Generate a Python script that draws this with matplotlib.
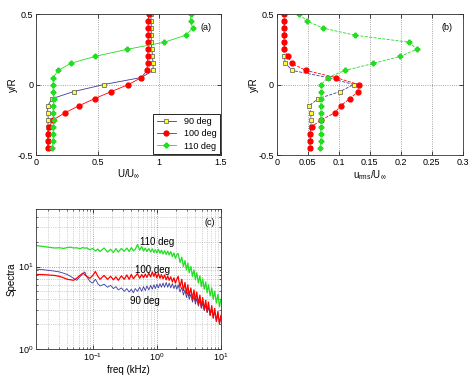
import matplotlib
matplotlib.use('Agg')
import matplotlib.pyplot as plt
from matplotlib.ticker import LogLocator, NullFormatter

plt.rcParams['font.family'] = ['Liberation Sans', 'DejaVu Sans']
plt.rcParams['font.size'] = 6.5
plt.rcParams['mathtext.fontset'] = 'custom'
plt.rcParams['mathtext.rm'] = 'Liberation Sans'
plt.rcParams['mathtext.it'] = 'Liberation Sans'

# Profile positions y/R
y_pos = [0.5, 0.45, 0.4, 0.35, 0.3, 0.25, 0.2, 0.15, 0.1, 0.05,
         0.0, -0.05, -0.1, -0.15, -0.2, -0.25, -0.3, -0.35, -0.4, -0.45]

# (a) mean velocity U/U_inf
u_90 = [0.93, 0.935, 0.935, 0.935, 0.935, 0.94, 0.945, 0.95, 0.95, 0.855,
        0.55, 0.305, 0.13, 0.095, 0.095, 0.10, 0.095, 0.095, 0.095, 0.095]
u_100 = [0.915, 0.91, 0.91, 0.91, 0.91, 0.91, 0.905, 0.905, 0.90, 0.855,
         0.75, 0.61, 0.475, 0.35, 0.235, 0.14, 0.105, 0.10, 0.10, 0.10]
u_110 = [1.255, 1.255, 1.27, 1.215, 1.04, 0.74, 0.48, 0.28, 0.18, 0.14,
         0.14, 0.14, 0.145, 0.14, 0.14, 0.145, 0.14, 0.14, 0.14, 0.13]

# (b) rms velocity u_rms/U_inf
rms_90 = [0.012, 0.012, 0.012, 0.012, 0.012, 0.012, 0.012, 0.014, 0.025, 0.082,
          0.124, 0.102, 0.067, 0.052, 0.055, 0.055, 0.055, 0.054, 0.054, 0.054]
rms_100 = [0.012, 0.012, 0.012, 0.012, 0.012, 0.012, 0.018, 0.024, 0.047, 0.095,
           0.132, 0.131, 0.118, 0.103, 0.094, 0.072, 0.056, 0.054, 0.054, 0.053]
rms_110 = [0.036, 0.049, 0.075, 0.126, 0.214, 0.226, 0.199, 0.156, 0.110, 0.082,
           0.072, 0.072, 0.071, 0.071, 0.071, 0.071, 0.071, 0.071, 0.071, 0.070]

# (c) spectra
freq = [0.013, 0.016, 0.02, 0.025, 0.03, 0.035, 0.04, 0.045, 0.05, 0.056,
        0.063, 0.07, 0.075, 0.08, 0.09, 0.1, 0.11, 0.12, 0.13, 0.15,
        0.17, 0.19, 0.21, 0.23, 0.25, 0.28, 0.31,
        0.34, 0.37, 0.4, 0.43, 0.46, 0.5, 0.54, 0.58, 0.62, 0.66,
        0.7, 0.75, 0.8, 0.85, 0.9, 0.95, 1.0, 1.06, 1.12, 1.18,
        1.25, 1.32, 1.4, 1.48, 1.56, 1.65, 1.75, 1.85, 1.95, 2.05,
        2.15, 2.3, 2.45, 2.6, 2.75, 2.9, 3.05, 3.2, 3.4, 3.6,
        3.8, 4.0, 4.2, 4.45, 4.7, 4.95, 5.2, 5.5, 5.8, 6.1,
        6.4, 6.8, 7.2, 7.6, 8.0, 8.5, 9.0, 9.5, 10.0]
spec_110 = [18.0, 17.6, 17.2, 16.8, 16.9, 16.6, 17.0, 17.2, 16.8, 16.9,
            16.5, 17.0, 16.7, 16.9, 16.0, 16.6, 15.4, 16.3, 15.2, 16.8,
            15.0, 16.2, 14.8, 16.5, 15.0, 16.6, 15.3,
            16.8, 15.2, 17.0, 15.5, 16.2, 18.5, 15.8, 17.5, 15.4, 16.8,
            15.2, 16.5, 15.0, 16.4, 14.8, 16.0, 14.6, 16.2, 14.5, 15.8,
            14.2, 15.6, 14.0, 15.4, 13.8, 15.2, 13.2, 14.6, 12.6, 13.9,
            14.4, 11.2, 13.0, 10.0, 11.8, 9.1, 11.0, 8.4, 10.0, 7.6,
            9.1, 6.9, 8.4, 6.3, 7.7, 5.7, 7.1, 5.3, 6.5, 4.8,
            6.0, 4.4, 5.5, 4.0, 5.0, 3.6, 4.6, 3.25, 4.0]
spec_100 = [8.0, 8.0, 7.9, 7.8, 7.6, 7.3, 7.0, 6.9, 6.8, 7.2,
            7.8, 8.3, 8.0, 7.6, 7.2, 7.8, 8.7, 7.6, 7.0, 7.8,
            7.0, 7.6, 6.9, 7.5, 6.8, 7.7, 7.0,
            7.9, 7.0, 8.0, 7.1, 7.6, 8.2, 7.2, 8.0, 7.3, 8.1,
            7.4, 8.3, 7.5, 8.6, 7.6, 8.4, 7.3, 8.2, 7.2, 8.0,
            7.1, 7.9, 6.9, 7.7, 6.8, 7.5, 6.5, 7.3, 6.3, 7.0,
            7.6, 5.6, 7.0, 5.1, 6.4, 4.7, 6.0, 4.4, 5.5, 4.0,
            5.2, 3.8, 4.9, 3.5, 4.5, 3.2, 4.2, 3.0, 3.9, 2.8,
            3.7, 2.55, 3.35, 2.35, 3.1, 2.15, 2.85, 2.0, 2.55]
spec_90 = [9.3, 9.2, 9.0, 8.8, 8.6, 8.3, 8.0, 7.6, 7.2, 6.8,
           7.5, 8.2, 8.6, 7.6, 6.6, 6.3, 7.0, 6.2, 5.8, 6.1,
           5.6, 5.9, 5.4, 5.7, 5.2, 5.5, 5.0,
           5.4, 4.9, 5.3, 4.8, 5.4, 5.0, 5.6, 5.0, 5.7, 5.1,
           5.8, 5.2, 5.9, 5.3, 6.0, 5.4, 6.1, 5.5, 6.2, 5.6,
           6.3, 5.6, 6.4, 5.6, 6.3, 5.5, 6.2, 5.4, 6.0, 5.3,
           6.0, 4.9, 5.6, 4.5, 5.2, 4.2, 4.9, 4.0, 4.6, 3.7,
           4.4, 3.5, 4.1, 3.3, 3.9, 3.1, 3.6, 2.9, 3.4, 2.75,
           3.2, 2.55, 3.0, 2.4, 2.8, 2.2, 2.6, 2.05, 2.35]

labels = ['90 deg', '100 deg', '110 deg']
c_blue = '#3a3aa0'
c_red = '#ff0000'
c_green = '#22dd22'
grid_kw = dict(color='#888888', linestyle=':', linewidth=0.6)


def matlab_box(ax):
    ax.tick_params(direction='in', top=True, right=True, length=3, width=0.5,
                   labelsize=6.5, pad=2)
    ax.tick_params(which='minor', direction='in', top=True, right=True,
                   length=1.5, width=0.4)
    for s in ax.spines.values():
        s.set_linewidth(0.6)
        s.set_color('#333333')


fig = plt.figure(figsize=(4.74, 3.8), dpi=100)
ax_a = fig.add_axes([0.076, 0.592, 0.390, 0.371])
ax_b = fig.add_axes([0.584, 0.592, 0.392, 0.371])
ax_c = fig.add_axes([0.076, 0.082, 0.390, 0.368])

# (a) mean velocity profiles
ax_a.plot(u_90, y_pos, '-s', color=c_blue, lw=0.6, ms=3.2, mfc='#ffff33',
          mec='#555555', mew=0.5, label=labels[0])
ax_a.plot(u_100, y_pos, '-o', color=c_red, lw=0.6, ms=3.5, mfc=c_red,
          mec=c_red, label=labels[1])
ax_a.plot(u_110, y_pos, '-P', color=c_green, lw=0.6, ms=3.3, mfc=c_green,
          mec=c_green, label=labels[2])
ax_a.set_xlim(0, 1.5)
ax_a.set_ylim(-0.5, 0.5)
ax_a.set_xticks([0, 0.5, 1, 1.5])
ax_a.set_xticklabels(['0', '0.5', '1', '1.5'])
ax_a.set_yticks([-0.5, 0, 0.5])
ax_a.set_yticklabels(['-0.5', '0', '0.5'])
ax_a.grid(True, **grid_kw)
ax_a.set_xlabel(r'U/U$_{\infty}$', fontsize=7, labelpad=1)
ax_a.set_ylabel('y/R', fontsize=7, labelpad=0)
ax_a.text(1.38, 0.39, '(a)', fontsize=6.5, ha='center')
leg = ax_a.legend(loc='lower right', fontsize=6.5, fancybox=False,
                  edgecolor='black', framealpha=1, handlelength=2.2,
                  borderaxespad=0.1, labelspacing=0.35)
leg.get_frame().set_linewidth(0.6)
matlab_box(ax_a)

# (b) rms profiles
ax_b.plot(rms_90, y_pos, '--s', color=c_blue, lw=0.6, ms=3.2, mfc='#ffff33',
          mec='#555555', mew=0.5)
ax_b.plot(rms_100, y_pos, '--o', color=c_red, lw=0.6, ms=3.5, mfc=c_red,
          mec=c_red)
ax_b.plot(rms_110, y_pos, '--P', color=c_green, lw=0.6, ms=3.3, mfc=c_green,
          mec=c_green)
ax_b.set_xlim(0, 0.3)
ax_b.set_ylim(-0.5, 0.5)
ax_b.set_xticks([0, 0.05, 0.1, 0.15, 0.2, 0.25, 0.3])
ax_b.set_xticklabels(['0', '0.05', '0.1', '0.15', '0.2', '0.25', '0.3'])
ax_b.set_yticks([-0.5, 0, 0.5])
ax_b.set_yticklabels(['-0.5', '0', '0.5'])
ax_b.grid(True, **grid_kw)
ax_b.set_xlabel(r'u$_{rms}$/U$_{\infty}$', fontsize=7, labelpad=1)
ax_b.set_ylabel('y/R', fontsize=7, labelpad=0)
ax_b.text(0.274, 0.39, '(b)', fontsize=6.5, ha='center')
matlab_box(ax_b)

# (c) spectra
ax_c.loglog(freq, spec_90, color=c_blue, lw=0.6)
ax_c.loglog(freq, spec_100, color=c_red, lw=0.9)
ax_c.loglog(freq, spec_110, color=c_green, lw=0.9)
ax_c.set_xlim(0.013, 10)
ax_c.set_ylim(1, 50)
ax_c.xaxis.set_major_locator(LogLocator(base=10, numticks=10))
ax_c.xaxis.set_minor_locator(LogLocator(base=10, subs=range(2, 10), numticks=20))
ax_c.yaxis.set_major_locator(LogLocator(base=10, numticks=10))
ax_c.yaxis.set_minor_locator(LogLocator(base=10, subs=range(2, 10), numticks=20))
ax_c.xaxis.set_minor_formatter(NullFormatter())
ax_c.yaxis.set_minor_formatter(NullFormatter())
ax_c.grid(True, which='major', **grid_kw)
ax_c.grid(True, which='minor', color='#aaaaaa', linestyle=':', linewidth=0.5)
ax_c.set_xlabel('freq (kHz)', fontsize=7, labelpad=1)
ax_c.set_ylabel('Spectra', fontsize=7, labelpad=1)
ax_c.text(1.0, 19.6, '110 deg', fontsize=7, ha='center', va='center')
ax_c.text(0.86, 9.2, '100 deg', fontsize=7, ha='center', va='center')
ax_c.text(0.64, 3.85, '90 deg', fontsize=7, ha='center', va='center')
ax_c.text(6.7, 34, '(c)', fontsize=6.5, ha='center', va='center')
matlab_box(ax_c)

fig.savefig('out.png', dpi=100)
